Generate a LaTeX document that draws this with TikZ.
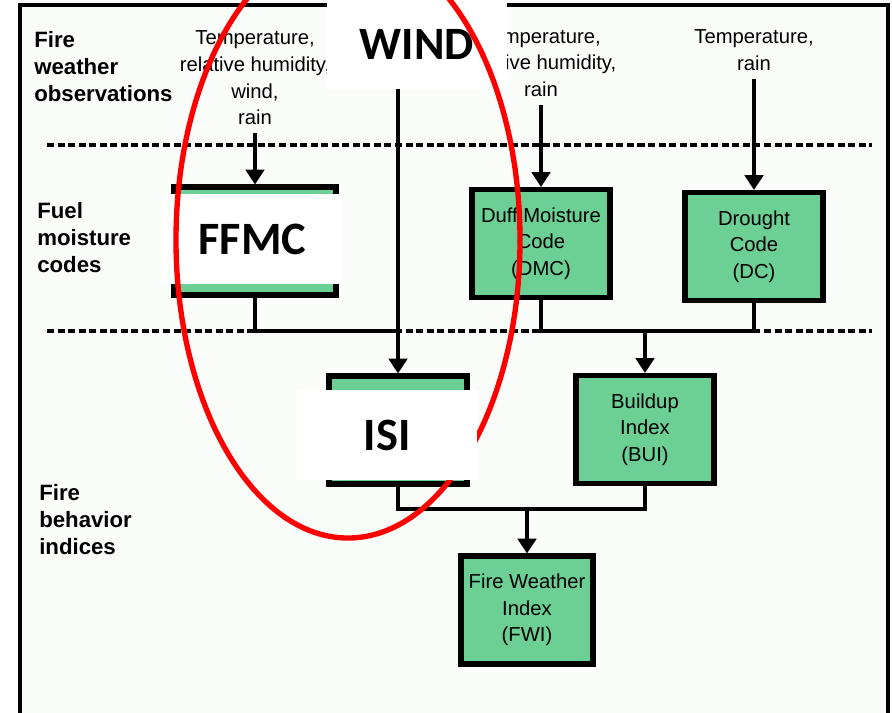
\documentclass[tikz,border=0pt]{standalone}
\usepackage{fontspec}
\setmainfont{Liberation Sans}
\newfontfamily\tagfamily{Carlito}
\usetikzlibrary{arrows.meta}
\definecolor{boxgreen}{RGB}{108,207,147}
\definecolor{panel}{RGB}{250,252,250}
\newcommand{\diagfont}{\fontsize{14.4}{19}\selectfont}
\newcommand{\rowfont}{\fontsize{15.8}{19.2}\selectfont\bfseries}
\newcommand{\tagfont}{\fontsize{33}{36}\selectfont\tagfamily\bfseries}
\tikzstyle{idxbox} = [rectangle, minimum width=34.5mm, minimum height=27mm, align=center, draw=black, fill=boxgreen, line width=3.6pt, font=\diagfont]
\tikzstyle{obs} = [align=center, inner sep=0pt, font=\diagfont]
\tikzstyle{rowlabel} = [align=left, anchor=west, inner sep=0pt, font=\rowfont]
\tikzstyle{overtag} = [rectangle, fill=white, inner sep=0pt, minimum width=45mm, minimum height=22.5mm, font=\tagfont]
\tikzstyle{sepline} = [line width=3pt, dash pattern=on 5pt off 2.5pt]
\tikzstyle{link} = [line width=2.6pt]

\begin{document}
\begin{tikzpicture}[x=0.25mm, y=-0.25mm, >={Triangle[length=10.5pt,width=13pt]}]
    \path[use as bounding box] (0,0) rectangle (892,712);
    \clip (0,0) rectangle (892,712);
    \draw[fill=panel, line width=2.2pt] (20,5) rectangle (888,740);

    % level separators
    \draw[sepline] (47,145) -- (872,145);
    \draw[sepline] (47,331) -- (872,331);

    \node at (34,67) [rowlabel] (rowobs) {Fire\\weather\\observations};
    \node at (37,238) [rowlabel] (rowfuel) {Fuel\\moisture\\codes};
    \node at (39,520) [rowlabel] (rowfire) {Fire\\behavior\\indices};

    \node at (255,78) [obs] (obsffmc) {Temperature,\\relative humidity,\\wind,\\rain};
    \node at (541,63) [obs] (obsdmc) {Temperature,\\relative humidity,\\rain};
    \node at (754,50) [obs] (obsdc) {Temperature,\\rain};

    \node at (255,241) [idxbox, minimum width=40.5mm] (ffmc) {};
    \node at (541,243.5) [idxbox] (dmc) {Duff Moisture\\Code\\(DMC)};
    \node at (754,246.5) [idxbox] (dc) {Drought\\Code\\(DC)};
    \node at (398,430) [idxbox] (isi) {};
    \node at (645,429.5) [idxbox] (bui) {Buildup\\Index\\(BUI)};
    \node at (527,610) [idxbox, minimum width=33mm] (fwi) {Fire Weather\\Index\\(FWI)};

    \node at (417,44) [overtag] (wind) {WIND};
    \node at (252.5,239) [overtag] (ffmctag) {FFMC};

    \coordinate (windjoin) at (398,331);
    \coordinate (buijoin) at (645,331);
    \coordinate (fwijoin) at (527,509);

    \draw[link,->] ([yshift=-2mm]obsffmc.south) -- (ffmc.north);
    \draw[link,->] ([yshift=-2mm]obsdmc.south) -- (dmc.north);
    \draw[link,->] ([yshift=-2mm]obsdc.south) -- (dc.north);
    \draw[link,->] (isi.north |- wind.south) -- (isi.north);
    \draw[link] (ffmc.south) |- (windjoin);
    \draw[link] (dmc.south) |- (buijoin) -| (dc.south);
    \draw[link,->] (buijoin) -- (bui.north);
    \draw[link] (isi.south) |- (fwijoin) -| (bui.south);
    \draw[link,->] (fwijoin) -- (fwi.north);

    \draw[red, line width=3.8pt] (348,240) ellipse [x radius=43mm, y radius=74.5mm];

    \node at (387,435) [overtag] (isitag) {ISI};
\end{tikzpicture}
\end{document}
